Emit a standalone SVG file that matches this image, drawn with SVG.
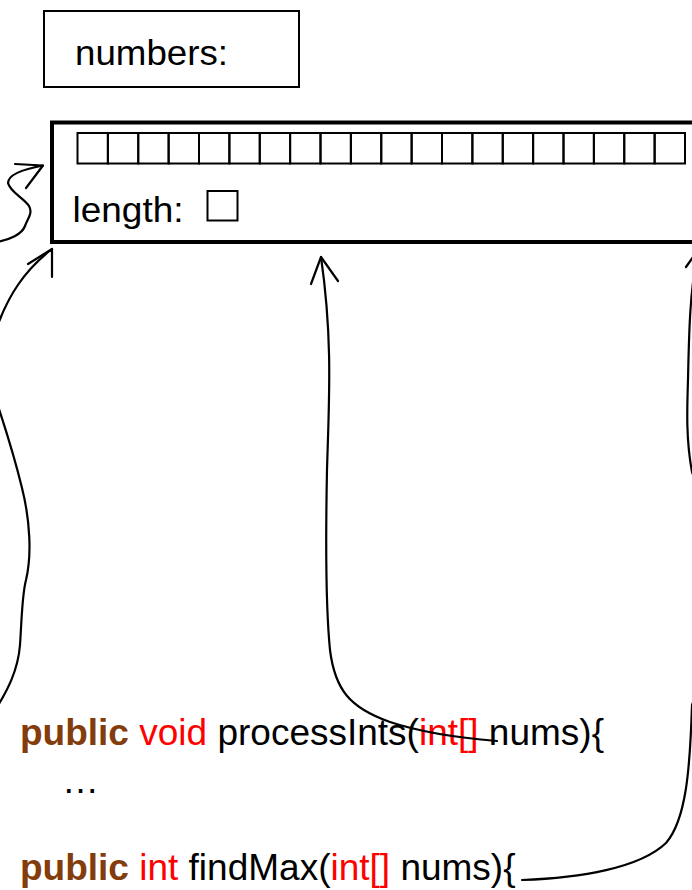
<svg xmlns="http://www.w3.org/2000/svg" width="692" height="890" viewBox="0 0 692 890">
  <style>
    .label { font-family: "Liberation Sans", Arial, sans-serif; fill: #000; }
    .code { font-family: "Liberation Sans", Arial, sans-serif; font-size: 37px; fill: #000; }
    .kw { font-weight: bold; fill: #833C0B; }
    .ty { fill: #FF0000; }
    .cell { fill: none; stroke: #000; stroke-width: 2; }
    .wire { fill: none; stroke: #000; stroke-width: 2.2; stroke-linecap: round; stroke-linejoin: round; }
  </style>
  <defs>
    <rect id="slot" class="cell" width="30.375" height="30.5"/>
  </defs>
  <rect width="692" height="890" fill="#fff"/>

  <!-- reference variable -->
  <g id="numbers-var">
    <rect x="44" y="11" width="255" height="76" fill="none" stroke="#000" stroke-width="2"/>
    <text class="label" x="75" y="65" font-size="35" textLength="153" lengthAdjust="spacingAndGlyphs">numbers:</text>
  </g>

  <!-- array object on the heap -->
  <g id="array-object">
    <rect x="52" y="122.5" width="660" height="119.5" fill="none" stroke="#000" stroke-width="4"/>
    <g id="slots">
      <use href="#slot" x="77.5" y="133"/>
      <use href="#slot" x="107.875" y="133"/>
      <use href="#slot" x="138.25" y="133"/>
      <use href="#slot" x="168.625" y="133"/>
      <use href="#slot" x="199" y="133"/>
      <use href="#slot" x="229.375" y="133"/>
      <use href="#slot" x="259.75" y="133"/>
      <use href="#slot" x="290.125" y="133"/>
      <use href="#slot" x="320.5" y="133"/>
      <use href="#slot" x="350.875" y="133"/>
      <use href="#slot" x="381.25" y="133"/>
      <use href="#slot" x="411.625" y="133"/>
      <use href="#slot" x="442" y="133"/>
      <use href="#slot" x="472.375" y="133"/>
      <use href="#slot" x="502.75" y="133"/>
      <use href="#slot" x="533.125" y="133"/>
      <use href="#slot" x="563.5" y="133"/>
      <use href="#slot" x="593.875" y="133"/>
      <use href="#slot" x="624.25" y="133"/>
      <use href="#slot" x="654.625" y="133"/>
    </g>
    <text class="label" x="72.5" y="222" font-size="35" textLength="111" lengthAdjust="spacingAndGlyphs">length:</text>
    <rect x="207.5" y="191" width="30" height="29.5" fill="none" stroke="#000" stroke-width="2"/>
  </g>

  <!-- method signatures -->
  <g id="process-ints">
    <text class="code" x="20" y="745"><tspan class="kw">public</tspan> <tspan class="ty">void</tspan> processInts(<tspan class="ty">int[]</tspan> nums){</text>
    <text class="code" x="62" y="793">…</text>
  </g>
  <g id="find-max">
    <text class="code" x="20" y="880"><tspan class="kw">public</tspan> <tspan class="ty">int</tspan> findMax(<tspan class="ty">int[]</tspan> nums){</text>
  </g>

  <!-- hand-drawn references -->
  <g id="connectors">
    <!-- incoming from the left edge -->
    <path class="wire" d="M -4,242 C 10,240 22,234 25,226 C 28,218 33,213 29,206 C 24,198 10,192 8,183 C 8,174 24,169 43,165.5"/>
    <path class="wire" d="M 15,164 L 43,165.5 L 26,188"/>

    <!-- from processInts parameter (left copy) -->
    <path class="wire" d="M -6,712 C 8,690 18,670 20,645 C 22,615 22,595 26,580 C 32,555 30,520 22,488 C 14,455 6,430 -4,400 C -10,370 -10,350 -4,330 C 8,295 25,270 52,249"/>
    <path class="wire" d="M 28,264 L 52,249 L 52,277"/>

    <!-- from processInts parameter -->
    <path class="wire" d="M 497,741 C 460,738 420,732 390,722 C 350,708 335,690 330,650 C 325,600 326,520 327,470 C 329,400 333,340 321,257"/>
    <path class="wire" d="M 311,284 L 321,257 L 338,281"/>

    <!-- from findMax parameter -->
    <path class="wire" d="M 522,880 C 580,878 640,868 666,843 C 686,820 690,770 692,705 C 716,645 716,540 692,472 C 686,440 687,410 688,380 C 689,330 690,290 698,250"/>
    <path class="wire" d="M 686,267 L 698,250"/>
  </g>
</svg>
